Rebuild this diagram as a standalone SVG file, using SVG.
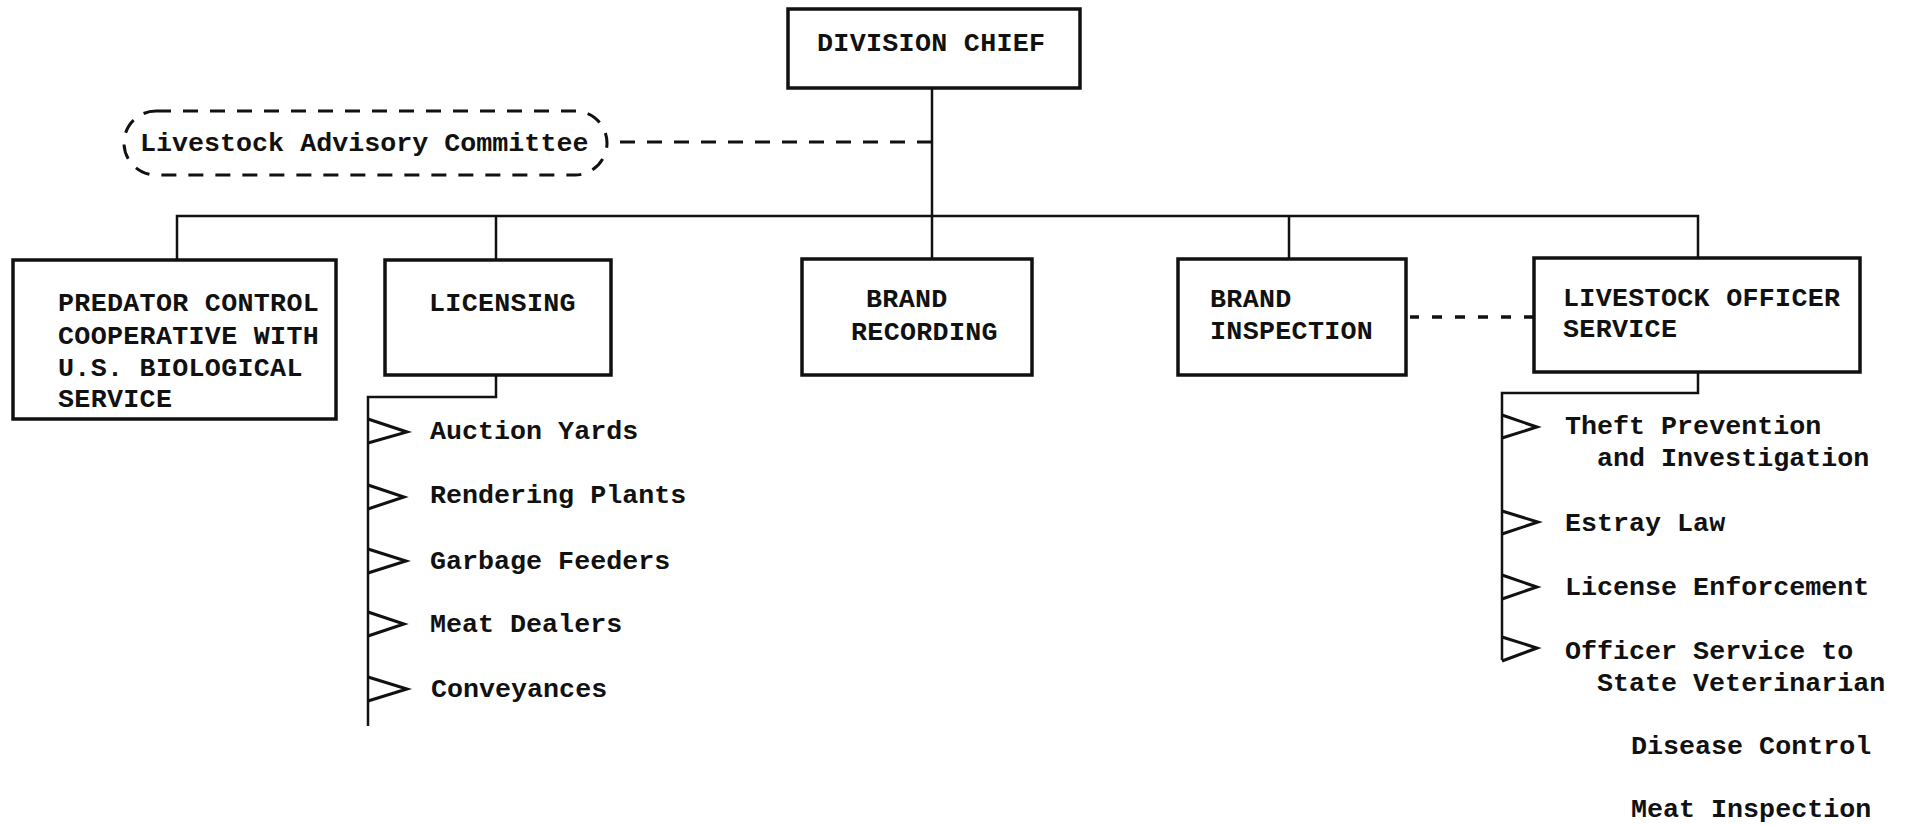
<svg xmlns="http://www.w3.org/2000/svg" width="1909" height="825" viewBox="0 0 1909 825">
<style>
.box{fill:#fff;stroke:#111;stroke-width:3.5}
.ln{fill:none;stroke:#111;stroke-width:2.5}
.dash{fill:none;stroke:#111;stroke-width:3;stroke-dasharray:15 12}
.dot{fill:none;stroke:#111;stroke-width:3.5;stroke-dasharray:10 13}
.tri{fill:none;stroke:#111;stroke-width:3;stroke-linejoin:miter}
text{font-family:"Liberation Mono","Courier New",monospace;font-size:26.7px;fill:#111;font-weight:bold}
.bt{letter-spacing:0.3px}
</style>
<rect width="1909" height="825" fill="#fff"/>
<g id="connectors">
<path class="ln" d="M932 88 V259"/>
<path class="ln" d="M177 260 V216 H1698 V258"/>
<path class="ln" d="M496 216 V260"/>
<path class="ln" d="M1289 215 V259"/>
<path class="ln" d="M496 375 V397 H368 V726"/>
<path class="ln" d="M1698 372 V393 H1502 V660"/>
<path class="dash" d="M932 142 H608"/>
<path class="dot" d="M1534 317 H1410"/>
<g id="licensing-markers">
<path class="tri" d="M368 419 L407 432 L368 443"/>
<path class="tri" d="M368 485 L404 497 L368 509"/>
<path class="tri" d="M368 549 L406 561 L368 573"/>
<path class="tri" d="M368 612 L404 624 L368 636"/>
<path class="tri" d="M368 677 L407 689 L368 701"/>
</g>
<g id="officer-markers">
<path class="tri" d="M1502 415 L1537 427 L1502 438"/>
<path class="tri" d="M1502 511 L1538 522 L1502 534"/>
<path class="tri" d="M1502 575 L1537 587 L1502 599"/>
<path class="tri" d="M1502 637 L1537 648 L1502 661"/>
</g>
</g>
<g id="division-chief">
<rect class="box" x="788" y="9" width="292" height="79"/>
<text class="bt" x="817" y="51">DIVISION CHIEF</text>
</g>
<g id="advisory-committee">
<rect x="124" y="111" width="483" height="64" rx="32" ry="32" class="dash"/>
<text x="140" y="151">Livestock Advisory Committee</text>
</g>
<g id="predator-control">
<rect class="box" x="13" y="260" width="323" height="159"/>
<text class="bt" x="58" y="311">PREDATOR CONTROL</text>
<text class="bt" x="58" y="344">COOPERATIVE WITH</text>
<text class="bt" x="58" y="376">U.S. BIOLOGICAL</text>
<text class="bt" x="58" y="407">SERVICE</text>
</g>
<g id="licensing">
<rect class="box" x="385" y="260" width="226" height="115"/>
<text class="bt" x="429" y="311">LICENSING</text>
</g>
<g id="brand-recording">
<rect class="box" x="802" y="259" width="230" height="116"/>
<text class="bt" x="866" y="307">BRAND</text>
<text class="bt" x="851" y="340">RECORDING</text>
</g>
<g id="brand-inspection">
<rect class="box" x="1178" y="259" width="228" height="116"/>
<text class="bt" x="1210" y="307">BRAND</text>
<text class="bt" x="1210" y="339">INSPECTION</text>
</g>
<g id="livestock-officer-service">
<rect class="box" x="1534" y="258" width="326" height="114"/>
<text class="bt" x="1563" y="306">LIVESTOCK OFFICER</text>
<text class="bt" x="1563" y="337">SERVICE</text>
</g>
<g id="licensing-items">
<text x="430" y="439">Auction Yards</text>
<text x="430" y="503">Rendering Plants</text>
<text x="430" y="569">Garbage Feeders</text>
<text x="430" y="632">Meat Dealers</text>
<text x="431" y="697">Conveyances</text>
</g>
<g id="officer-items">
<text x="1565" y="434">Theft Prevention</text>
<text x="1597" y="466">and Investigation</text>
<text x="1565" y="531">Estray Law</text>
<text x="1565" y="595">License Enforcement</text>
<text x="1565" y="659">Officer Service to</text>
<text x="1597" y="691">State Veterinarian</text>
<text x="1631" y="754">Disease Control</text>
<text x="1631" y="817">Meat Inspection</text>
</g>
</svg>
